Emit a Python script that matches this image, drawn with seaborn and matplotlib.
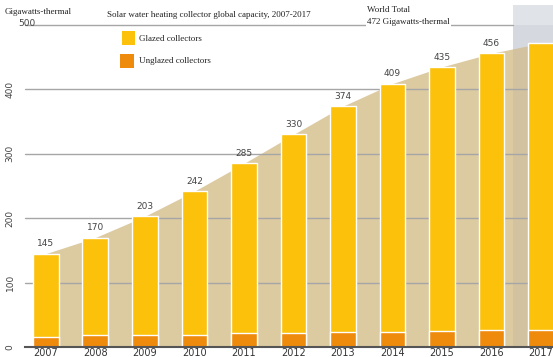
import matplotlib
matplotlib.use("Agg")
import matplotlib.pyplot as plt
import seaborn as sns
import pandas as pd
from matplotlib.patches import Rectangle

years = ["2007", "2008", "2009", "2010", "2011", "2012", "2013", "2014", "2015", "2016", "2017"]
totals = [145, 170, 203, 242, 285, 330, 374, 409, 435, 456, 472]
unglazed = [16, 18, 18, 19, 21, 22, 23, 24, 25, 26, 27]
value_labels = ["145", "170", "203", "242", "285", "330", "374", "409", "435", "456", ""]
yticks = [0, 100, 200, 300, 400, 500]

GLAZED = "#fcc10a"
UNGLAZED = "#ee8a0c"
TAN = "#dccaa1"
GREYBG = "#e0e4e9"

sns.set_theme(style="white")
plt.rcParams["font.family"] = ["DejaVu Sans"]

W, H = 553, 357
fig = plt.figure(figsize=(W / 100, H / 100), dpi=100)
ax = fig.add_axes([30 / W, 10 / H, 523 / W, 342 / H])

df = pd.DataFrame({"year": years, "total": totals, "unglazed": unglazed})
xs = list(range(len(years)))

# background grey region for 2017
ax.axvspan(9.43, 10.24, color=GREYBG, zorder=0.2, lw=0)
# tan area behind bars
ax.fill_between(xs + [10.24], totals + [totals[-1]], 0, color=TAN, lw=0, zorder=0.5)
ax.fill_between([9.43, 10.24], [500, 500], 0, color="#8a8a9a", alpha=0.12, lw=0, zorder=0.6)

# gridlines
for v in yticks[1:-1]:
    ax.plot([-0.42, 10.24], [v, v], color="#a6a6a6", lw=1.0, zorder=0.8, clip_on=False)
ax.plot([-0.42, 9.43], [500, 500], color="#a6a6a6", lw=1.0, zorder=0.8, clip_on=False)

sns.barplot(data=df, x="year", y="total", color=GLAZED, width=0.52, edgecolor="white",
            linewidth=1.0, saturation=1, ax=ax, zorder=2)
sns.barplot(data=df, x="year", y="unglazed", color=UNGLAZED, width=0.52, edgecolor="white",
            linewidth=1.0, saturation=1, ax=ax, zorder=3)
ax.set_xlim(-0.32, 10.24)
ax.set_ylim(0, 531)

for x, t, lab in zip(xs, totals, value_labels):
    if lab:
        ax.text(x, t + 8, lab, ha="center", va="bottom", fontsize=6.5, color="#444444", zorder=4)

for s in ["top", "right", "left"]:
    ax.spines[s].set_visible(False)
ax.spines["bottom"].set_color("#555555")
ax.spines["bottom"].set_linewidth(1.5)
ax.spines["bottom"].set_bounds(-0.42, 10.24)
ax.spines["bottom"].set_zorder(5)

ax.set_xlabel("")
ax.set_ylabel("")
ax.set_yticks(yticks)
ylabels = [str(v) for v in yticks]
ylabels[-1] = ""
ax.set_yticklabels(ylabels, fontsize=6.5, color="#444444")
for lab in ax.get_yticklabels():
    lab.set_rotation(90)
    lab.set_va("center")
ax.tick_params(axis="y", length=0, pad=11)
ax.text(-0.2, yticks[-1] + 2, str(yticks[-1]), ha="right", va="center", fontsize=6.5,
        color="#444444", clip_on=False)
ax.tick_params(axis="x", length=0, pad=1, labelsize=7, colors="#333333")
ax.set_xticks(xs)
ax.set_xticklabels(years)

serif = ["Liberation Serif", "DejaVu Serif"]
fig.text(5 / W, 1 - 12 / H, "Gigawatts-thermal", fontsize=6.5, family=serif, va="center", color="#222222")
fig.text(107 / W, 1 - 15 / H, "Solar water heating collector global capacity, 2007-2017", fontsize=6.5,
         family=serif, va="center", color="#222222")
fig.text(367 / W, 1 - 10 / H, "World Total", fontsize=6.5, family=serif, va="center", color="#222222")
fig.text(367 / W, 1 - 22 / H, "472 Gigawatts-thermal", fontsize=6.5, family=serif, va="center",
         color="#222222", bbox=dict(facecolor="white", edgecolor="none", pad=1.0), zorder=6)

# legend
fig.patches.append(Rectangle((122 / W, 1 - 45 / H), 13 / W, 14 / H, transform=fig.transFigure,
                             facecolor=GLAZED, edgecolor="none", zorder=6))
fig.patches.append(Rectangle((120 / W, 1 - 68 / H), 14 / W, 14 / H, transform=fig.transFigure,
                             facecolor=UNGLAZED, edgecolor="none", zorder=6))
fig.text(139 / W, 1 - 39 / H, "Glazed collectors", fontsize=6.5, family=serif, va="center", color="#222222")
fig.text(139 / W, 1 - 61 / H, "Unglazed collectors", fontsize=6.5, family=serif, va="center", color="#222222")

fig.savefig("out.png", dpi=100, facecolor="white")
